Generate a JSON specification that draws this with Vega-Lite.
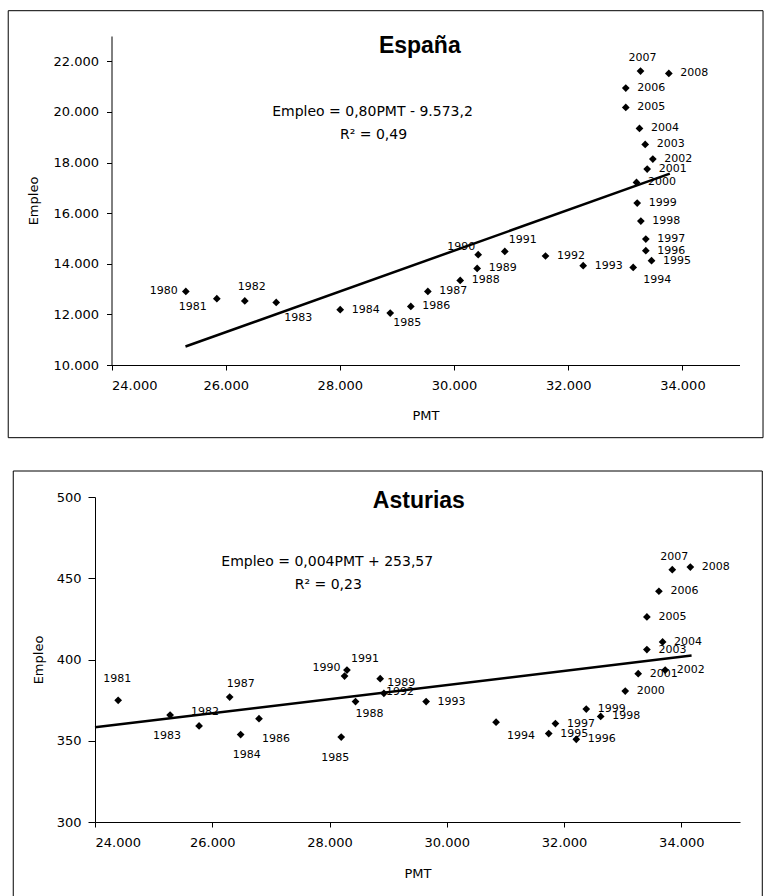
{
  "$schema": "https://vega.github.io/schema/vega-lite/v6.json",
  "padding": {"left": 7, "top": 10, "right": 0, "bottom": 0},
  "background": "white",
  "config": {
    "view": {"stroke": null},
    "locale": {"number": {"decimal": ",", "thousands": ".", "grouping": [3], "currency": ["", " €"]}},
    "axis": {"grid": false, "domainColor": "#000", "tickColor": "#000", "labelColor": "#000", "titleColor": "#000", "labelFont": "DejaVu Sans", "titleFont": "DejaVu Sans", "labelFontSize": 13, "titleFontSize": 13, "titleFontWeight": "normal"},
    "text": {"font": "DejaVu Sans", "fontSize": 11, "color": "#000", "baseline": "middle"}
  },
  "datasets": {
    "espana": [
      {"year": 1980, "PMT": 25302, "Empleo": 12908},
      {"year": 1981, "PMT": 25845, "Empleo": 12620},
      {"year": 1982, "PMT": 26335, "Empleo": 12529},
      {"year": 1983, "PMT": 26885, "Empleo": 12473},
      {"year": 1984, "PMT": 28006, "Empleo": 12185},
      {"year": 1985, "PMT": 28882, "Empleo": 12054},
      {"year": 1986, "PMT": 29243, "Empleo": 12315},
      {"year": 1987, "PMT": 29541, "Empleo": 12908},
      {"year": 1988, "PMT": 30108, "Empleo": 13343},
      {"year": 1989, "PMT": 30405, "Empleo": 13817},
      {"year": 1990, "PMT": 30423, "Empleo": 14358},
      {"year": 1991, "PMT": 30889, "Empleo": 14488},
      {"year": 1992, "PMT": 31602, "Empleo": 14307},
      {"year": 1993, "PMT": 32262, "Empleo": 13923},
      {"year": 1994, "PMT": 33138, "Empleo": 13856},
      {"year": 1995, "PMT": 33459, "Empleo": 14121},
      {"year": 1996, "PMT": 33359, "Empleo": 14516},
      {"year": 1997, "PMT": 33359, "Empleo": 14978},
      {"year": 1998, "PMT": 33272, "Empleo": 15689},
      {"year": 1999, "PMT": 33208, "Empleo": 16401},
      {"year": 2000, "PMT": 33196, "Empleo": 17215},
      {"year": 2001, "PMT": 33383, "Empleo": 17744},
      {"year": 2002, "PMT": 33482, "Empleo": 18139},
      {"year": 2003, "PMT": 33348, "Empleo": 18716},
      {"year": 2004, "PMT": 33248, "Empleo": 19348},
      {"year": 2005, "PMT": 33008, "Empleo": 20178},
      {"year": 2006, "PMT": 33008, "Empleo": 20944},
      {"year": 2007, "PMT": 33266, "Empleo": 21616},
      {"year": 2008, "PMT": 33762, "Empleo": 21521}
    ],
    "espana_trend": [
      {"PMT": 25296, "Empleo": 10730},
      {"PMT": 33780, "Empleo": 17560}
    ],
    "asturias": [
      {"year": 1981, "PMT": 24395, "Empleo": 374.9},
      {"year": 1982, "PMT": 25281, "Empleo": 365.8},
      {"year": 1983, "PMT": 25775, "Empleo": 359.1},
      {"year": 1984, "PMT": 26484, "Empleo": 353.8},
      {"year": 1985, "PMT": 28199, "Empleo": 352.3},
      {"year": 1986, "PMT": 26797, "Empleo": 363.6},
      {"year": 1987, "PMT": 26297, "Empleo": 376.9},
      {"year": 1988, "PMT": 28443, "Empleo": 374.1},
      {"year": 1989, "PMT": 28864, "Empleo": 388.2},
      {"year": 1990, "PMT": 28256, "Empleo": 389.8},
      {"year": 1991, "PMT": 28297, "Empleo": 393.5},
      {"year": 1992, "PMT": 28927, "Empleo": 379.2},
      {"year": 1993, "PMT": 29647, "Empleo": 374.1},
      {"year": 1994, "PMT": 30840, "Empleo": 361.4},
      {"year": 1995, "PMT": 31738, "Empleo": 354.4},
      {"year": 1996, "PMT": 32208, "Empleo": 350.9},
      {"year": 1997, "PMT": 31852, "Empleo": 360.6},
      {"year": 1998, "PMT": 32624, "Empleo": 365.0},
      {"year": 1999, "PMT": 32378, "Empleo": 369.5},
      {"year": 2000, "PMT": 33043, "Empleo": 380.6},
      {"year": 2001, "PMT": 33264, "Empleo": 391.3},
      {"year": 2002, "PMT": 33724, "Empleo": 393.5},
      {"year": 2003, "PMT": 33412, "Empleo": 406.1},
      {"year": 2004, "PMT": 33680, "Empleo": 410.8},
      {"year": 2005, "PMT": 33412, "Empleo": 426.2},
      {"year": 2006, "PMT": 33617, "Empleo": 442.0},
      {"year": 2007, "PMT": 33845, "Empleo": 455.3},
      {"year": 2008, "PMT": 34153, "Empleo": 456.9}
    ],
    "asturias_trend": [
      {"PMT": 24000, "Empleo": 358.3},
      {"PMT": 34174, "Empleo": 402.4}
    ]
  },
  "vconcat": [
    {
      "width": 645,
      "height": 329,
      "layer": [
        {
          "data": {"name": "espana"},
          "encoding": {
            "x": {"field": "PMT", "type": "quantitative", "scale": {"domain": [24000, 35000], "range": [16.5, 644.5], "nice": false, "zero": false}, "axis": {"values": [24000, 26000, 28000, 30000, 32000, 34000], "format": ",.0f", "tickSize": 5, "labelPadding": 9, "titlePadding": 17}, "title": "PMT"},
            "y": {"field": "Empleo", "type": "quantitative", "scale": {"domain": [10000, 23000], "nice": false, "zero": false}, "axis": {"values": [10000, 12000, 14000, 16000, 18000, 20000, 22000], "format": ",.0f", "tickSize": 5, "labelPadding": 8, "titlePadding": 13, "offset": -16.5}, "title": "Empleo"}
          },
          "layer": [
            {"data": {"name": "espana_trend"}, "mark": {"type": "line", "color": "#000", "strokeWidth": 2.5}, "encoding": {}},
            {"mark": {"type": "point", "shape": "diamond", "filled": true, "color": "#000", "size": 60, "opacity": 1}},
            {"transform": [{"filter": {"field": "year", "oneOf": [1984, 1986, 1987, 1988, 1989, 1992, 1993, 1995, 1996, 1997, 1998, 1999, 2000, 2001, 2002, 2003, 2004, 2005, 2006, 2008]}}],
             "mark": {"type": "text", "align": "left", "dx": 11.5, "dy": 0},
             "encoding": {"text": {"field": "year", "type": "nominal"}}},
            {"transform": [{"filter": {"field": "year", "oneOf": [1980]}}],
             "mark": {"type": "text", "align": "right", "dx": -8, "dy": 0},
             "encoding": {"text": {"field": "year", "type": "nominal"}}},
            {"transform": [{"filter": {"field": "year", "oneOf": [1981]}}],
             "mark": {"type": "text", "align": "right", "dx": -10, "dy": 8},
             "encoding": {"text": {"field": "year", "type": "nominal"}}},
            {"transform": [{"filter": {"field": "year", "oneOf": [1990]}}],
             "mark": {"type": "text", "align": "right", "dx": -3, "dy": -8},
             "encoding": {"text": {"field": "year", "type": "nominal"}}},
            {"transform": [{"filter": {"field": "year", "oneOf": [1982]}}],
             "mark": {"type": "text", "align": "center", "dx": 7, "dy": -14},
             "encoding": {"text": {"field": "year", "type": "nominal"}}},
            {"transform": [{"filter": {"field": "year", "oneOf": [2007]}}],
             "mark": {"type": "text", "align": "center", "dx": 2, "dy": -13},
             "encoding": {"text": {"field": "year", "type": "nominal"}}},
            {"transform": [{"filter": {"field": "year", "oneOf": [1983]}}],
             "mark": {"type": "text", "align": "center", "dx": 22, "dy": 16},
             "encoding": {"text": {"field": "year", "type": "nominal"}}},
            {"transform": [{"filter": {"field": "year", "oneOf": [1985]}}],
             "mark": {"type": "text", "align": "center", "dx": 17, "dy": 10},
             "encoding": {"text": {"field": "year", "type": "nominal"}}},
            {"transform": [{"filter": {"field": "year", "oneOf": [1991]}}],
             "mark": {"type": "text", "align": "center", "dx": 18, "dy": -11},
             "encoding": {"text": {"field": "year", "type": "nominal"}}},
            {"transform": [{"filter": {"field": "year", "oneOf": [1994]}}],
             "mark": {"type": "text", "align": "center", "dx": 24, "dy": 13},
             "encoding": {"text": {"field": "year", "type": "nominal"}}}
          ]
        },
        {"data": {"values": [{}]}, "mark": {"type": "rect", "filled": false, "stroke": "#000", "strokeWidth": 1},
         "encoding": {
           "x": {"datum": 22191, "type": "quantitative", "title": "PMT"},
           "x2": {"datum": 35412},
           "y": {"datum": 24000, "type": "quantitative", "title": "Empleo"},
           "y2": {"datum": 7128}
         }},
        {"data": {"values": [{}]}, "mark": {"type": "text", "font": "Liberation Sans", "fontWeight": "bold", "fontSize": 23, "align": "center"},
         "encoding": {
           "x": {"datum": 29400, "type": "quantitative", "title": "PMT"},
           "y": {"datum": 22616, "type": "quantitative", "title": "Empleo"},
           "text": {"value": "España"}
         }},
        {"data": {"values": [{}]}, "mark": {"type": "text", "fontSize": 14, "align": "center"},
         "encoding": {
           "x": {"datum": 28572, "type": "quantitative", "title": "PMT"},
           "y": {"datum": 20008, "type": "quantitative", "title": "Empleo"},
           "text": {"value": "Empleo = 0,80PMT - 9.573,2"}
         }},
        {"data": {"values": [{}]}, "mark": {"type": "text", "fontSize": 14, "align": "center"},
         "encoding": {
           "x": {"datum": 28589, "type": "quantitative", "title": "PMT"},
           "y": {"datum": 19099, "type": "quantitative", "title": "Empleo"},
           "text": {"value": "R² = 0,49"}
         }}
      ]
    },
    {
      "width": 645,
      "height": 325,
      "layer": [
        {
          "data": {"name": "asturias"},
          "encoding": {
            "x": {"field": "PMT", "type": "quantitative", "scale": {"domain": [24000, 35000], "nice": false, "zero": false}, "axis": {"values": [24000, 26000, 28000, 30000, 32000, 34000], "format": ",.0f", "tickSize": 5, "labelPadding": 9, "titlePadding": 18}, "title": "PMT"},
            "y": {"field": "Empleo", "type": "quantitative", "scale": {"domain": [300, 500], "nice": false, "zero": false}, "axis": {"values": [300, 350, 400, 450, 500], "format": "d", "tickSize": 7, "labelPadding": 7, "titlePadding": 11}, "title": "Empleo"}
          },
          "layer": [
            {"data": {"name": "asturias_trend"}, "mark": {"type": "line", "color": "#000", "strokeWidth": 2.5}, "encoding": {}},
            {"mark": {"type": "point", "shape": "diamond", "filled": true, "color": "#000", "size": 60, "opacity": 1}},
            {"transform": [{"filter": {"field": "year", "oneOf": [1993, 1995, 1996, 1997, 1998, 1999, 2000, 2001, 2002, 2003, 2004, 2005, 2006, 2008]}}],
             "mark": {"type": "text", "align": "left", "dx": 11.5, "dy": 0},
             "encoding": {"text": {"field": "year", "type": "nominal"}}},
            {"transform": [{"filter": {"field": "year", "oneOf": [1989]}}],
             "mark": {"type": "text", "align": "left", "dx": 7, "dy": 4},
             "encoding": {"text": {"field": "year", "type": "nominal"}}},
            {"transform": [{"filter": {"field": "year", "oneOf": [1992]}}],
             "mark": {"type": "text", "align": "left", "dx": 2, "dy": -1},
             "encoding": {"text": {"field": "year", "type": "nominal"}}},
            {"transform": [{"filter": {"field": "year", "oneOf": [1982]}}],
             "mark": {"type": "text", "align": "left", "dx": 21, "dy": -3},
             "encoding": {"text": {"field": "year", "type": "nominal"}}},
            {"transform": [{"filter": {"field": "year", "oneOf": [1990]}}],
             "mark": {"type": "text", "align": "right", "dx": -4, "dy": -8},
             "encoding": {"text": {"field": "year", "type": "nominal"}}},
            {"transform": [{"filter": {"field": "year", "oneOf": [1983]}}],
             "mark": {"type": "text", "align": "center", "dx": -32, "dy": 10},
             "encoding": {"text": {"field": "year", "type": "nominal"}}},
            {"transform": [{"filter": {"field": "year", "oneOf": [1981]}}],
             "mark": {"type": "text", "align": "center", "dx": -1, "dy": -21},
             "encoding": {"text": {"field": "year", "type": "nominal"}}},
            {"transform": [{"filter": {"field": "year", "oneOf": [1984]}}],
             "mark": {"type": "text", "align": "center", "dx": 6, "dy": 20},
             "encoding": {"text": {"field": "year", "type": "nominal"}}},
            {"transform": [{"filter": {"field": "year", "oneOf": [1985]}}],
             "mark": {"type": "text", "align": "center", "dx": -6, "dy": 21},
             "encoding": {"text": {"field": "year", "type": "nominal"}}},
            {"transform": [{"filter": {"field": "year", "oneOf": [1986]}}],
             "mark": {"type": "text", "align": "center", "dx": 17, "dy": 20},
             "encoding": {"text": {"field": "year", "type": "nominal"}}},
            {"transform": [{"filter": {"field": "year", "oneOf": [1987]}}],
             "mark": {"type": "text", "align": "center", "dx": 11, "dy": -13},
             "encoding": {"text": {"field": "year", "type": "nominal"}}},
            {"transform": [{"filter": {"field": "year", "oneOf": [1988]}}],
             "mark": {"type": "text", "align": "center", "dx": 14, "dy": 12},
             "encoding": {"text": {"field": "year", "type": "nominal"}}},
            {"transform": [{"filter": {"field": "year", "oneOf": [1991]}}],
             "mark": {"type": "text", "align": "center", "dx": 18, "dy": -11},
             "encoding": {"text": {"field": "year", "type": "nominal"}}},
            {"transform": [{"filter": {"field": "year", "oneOf": [1994]}}],
             "mark": {"type": "text", "align": "center", "dx": 25, "dy": 14},
             "encoding": {"text": {"field": "year", "type": "nominal"}}},
            {"transform": [{"filter": {"field": "year", "oneOf": [2007]}}],
             "mark": {"type": "text", "align": "center", "dx": 2, "dy": -13},
             "encoding": {"text": {"field": "year", "type": "nominal"}}}
          ]
        },
        {"data": {"values": [{}]}, "mark": {"type": "rect", "filled": false, "stroke": "#000", "strokeWidth": 1},
         "encoding": {
           "x": {"datum": 22606, "type": "quantitative", "title": "PMT"},
           "x2": {"datum": 35380},
           "y": {"datum": 516, "type": "quantitative", "title": "Empleo"},
           "y2": {"datum": 250}
         }},
        {"data": {"values": [{}]}, "mark": {"type": "text", "font": "Liberation Sans", "fontWeight": "bold", "fontSize": 23, "align": "center"},
         "encoding": {
           "x": {"datum": 29523, "type": "quantitative", "title": "PMT"},
           "y": {"datum": 497.5, "type": "quantitative", "title": "Empleo"},
           "text": {"value": "Asturias"}
         }},
        {"data": {"values": [{}]}, "mark": {"type": "text", "fontSize": 14, "align": "center"},
         "encoding": {
           "x": {"datum": 27961, "type": "quantitative", "title": "PMT"},
           "y": {"datum": 460.2, "type": "quantitative", "title": "Empleo"},
           "text": {"value": "Empleo = 0,004PMT + 253,57"}
         }},
        {"data": {"values": [{}]}, "mark": {"type": "text", "fontSize": 14, "align": "center"},
         "encoding": {
           "x": {"datum": 27978, "type": "quantitative", "title": "PMT"},
           "y": {"datum": 445.8, "type": "quantitative", "title": "Empleo"},
           "text": {"value": "R² = 0,23"}
         }}
      ]
    }
  ],
  "spacing": 31
}
